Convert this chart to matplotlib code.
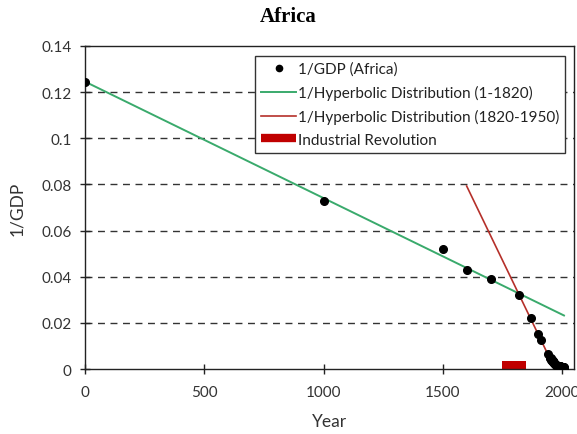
import matplotlib
matplotlib.use("Agg")
import matplotlib.pyplot as plt
from matplotlib.lines import Line2D

# 1/GDP observations for Africa
years_early = [1, 1000, 1500, 1600, 1700, 1820, 1870, 1900, 1913, 1940]
inv_gdp_early = [0.1245, 0.073, 0.0518, 0.0427, 0.0389, 0.0321, 0.0221, 0.0152, 0.0126, 0.0065]

years_modern = list(range(1950, 2009))
inv_gdp_modern = [
    0.0049, 0.0047, 0.0046, 0.0045, 0.0043, 0.0041, 0.0040, 0.0038, 0.0037, 0.0036,
    0.0035, 0.0034, 0.0033, 0.0031, 0.0030, 0.0028, 0.0027, 0.0026, 0.0025, 0.0023,
    0.0022, 0.0021, 0.0020, 0.0018, 0.0017, 0.0017, 0.0016, 0.0015, 0.0015, 0.0014,
    0.00135, 0.0013, 0.0013, 0.0013, 0.00125, 0.0012, 0.0012, 0.00118, 0.00115, 0.00112,
    0.0011, 0.0011, 0.00109, 0.00108, 0.00106, 0.00103, 0.00098, 0.00095, 0.00092, 0.00089,
    0.00086, 0.00083, 0.0008, 0.00077, 0.00073, 0.00069, 0.00066, 0.00063, 0.00059,
]

# Fitted reciprocal hyperbolic trends
hyper1_years = [1, 2008]
hyper1_vals = [0.1245, 0.0232]
hyper2_years = [1600, 1965]
hyper2_vals = [0.0793, 0.0011]

# Industrial Revolution marker
ir_start, ir_end, ir_height = 1750, 1850, 0.0034

x_ticks = [0, 500, 1000, 1500, 2000]
y_ticks = [0, 0.02, 0.04, 0.06, 0.08, 0.1, 0.12, 0.14]
y_tick_labels = ["0", "0.02", "0.04", "0.06", "0.08", "0.1", "0.12", "0.14"]

sans = ["Lato", "DejaVu Sans"]

fig = plt.figure(figsize=(5.77, 4.35), dpi=100)
ax = fig.add_axes([0.1473, 0.1494, 0.8475, 0.7426])

for y in y_ticks[1:-1]:
    ax.axhline(y, color="#333333", lw=1.0, ls=(0, (5, 4)), zorder=0.5)

ax.bar([(ir_start + ir_end) / 2], [ir_height], width=ir_end - ir_start,
       color="#c00000", zorder=2)

green = "#3aaa6c"
red = "#b5302a"
ax.plot(hyper1_years, hyper1_vals, color=green, lw=1.4, zorder=3)
ax.plot(hyper2_years, hyper2_vals, color=red, lw=1.2, zorder=3)
ax.plot(years_early + years_modern, inv_gdp_early + inv_gdp_modern, "o",
        color="black", ms=5.5, zorder=4)

ax.set_xlim(0, 2050)
ax.set_ylim(0, 0.14)
ax.set_xticks(x_ticks)
ax.set_yticks(y_ticks)
ax.set_yticklabels(y_tick_labels)
ax.tick_params(direction="inout", length=7, width=1, colors="#222222",
               labelsize=11, labelcolor="#333333")
ax.tick_params(axis="x", pad=8)
ax.tick_params(axis="y", pad=6)
for lab in ax.get_xticklabels() + ax.get_yticklabels():
    lab.set_family(sans)
for s in ax.spines.values():
    s.set_color("#222222")
    s.set_linewidth(1.0)

ax.set_xlabel("Year", fontsize=12.5, family=sans, color="#333333", labelpad=10)
ax.set_ylabel("1/GDP", fontsize=12.5, family=sans, color="#333333", labelpad=12)
fig.suptitle("Africa", x=0.5, y=0.985, fontsize=15, fontweight="bold",
             family=["Liberation Serif", "DejaVu Serif"])

handles = [
    Line2D([], [], ls="none", marker="o", color="black", ms=4.5),
    Line2D([], [], color=green, lw=1.4),
    Line2D([], [], color=red, lw=1.2),
    Line2D([], [], color="#c00000", lw=6, solid_capstyle="butt"),
]
labels = ["1/GDP (Africa)", "1/Hyperbolic Distribution (1-1820)",
          "1/Hyperbolic Distribution (1820-1950)", "Industrial Revolution"]
leg = ax.legend(handles, labels, loc="upper right", bbox_to_anchor=(0.982, 0.97),
                prop={"family": sans, "size": 11}, frameon=True, fancybox=False,
                framealpha=1, edgecolor="#333333", handlelength=2.3,
                handletextpad=0.1, borderpad=0.4, labelspacing=0.58,
                borderaxespad=0)
leg.get_frame().set_linewidth(1.0)
for t in leg.get_texts():
    t.set_color("#222222")

fig.savefig("out.png", dpi=100)
